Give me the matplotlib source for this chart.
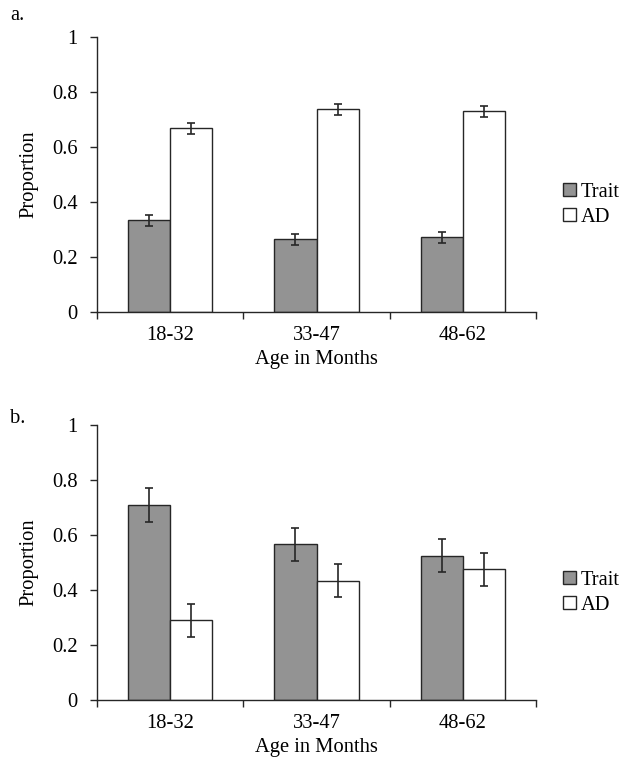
import numpy as np
import matplotlib
matplotlib.use('Agg')
import matplotlib.pyplot as plt
from matplotlib.patches import Patch

plt.rcParams['font.family'] = ['Liberation Serif', 'DejaVu Serif']
plt.rcParams['font.size'] = 14.8

ages = ['18-32', '33-47', '48-62']

# panel a
trait_a = [0.334, 0.264, 0.271]
trait_a_err = [0.020, 0.019, 0.020]
ad_a = [0.668, 0.737, 0.730]
ad_a_err = [0.019, 0.019, 0.020]

# panel b
trait_b = [0.709, 0.566, 0.525]
trait_b_err = [0.061, 0.060, 0.060]
ad_b = [0.291, 0.434, 0.476]
ad_b_err = [0.060, 0.060, 0.060]

gray = '#939393'
edge = '#262626'

fig = plt.figure(figsize=(6.23, 7.68), dpi=100)
ax_a = fig.add_axes([0.1557, 0.5938, 0.7047, 0.358])
ax_b = fig.add_axes([0.1557, 0.0885, 0.7047, 0.358])


def draw(ax, trait, trait_err, ad, ad_err):
    x = np.arange(len(ages))
    w = 0.288
    ax.bar(x - w / 2, trait, w, color=gray, edgecolor=edge, linewidth=1.0, zorder=2)
    ax.bar(x + w / 2, ad, w, color='white', edgecolor=edge, linewidth=1.0, zorder=2)
    ax.errorbar(x - w / 2, trait, yerr=trait_err, fmt='none', ecolor=edge,
                elinewidth=1.2, capsize=3, capthick=1.2, zorder=3)
    ax.errorbar(x + w / 2, ad, yerr=ad_err, fmt='none', ecolor=edge,
                elinewidth=1.2, capsize=3, capthick=1.2, zorder=3)

    ax.set_xlim(-0.5, len(ages) - 0.5)
    ax.set_ylim(0, 1)
    ax.set_yticks([0, 0.2, 0.4, 0.6, 0.8, 1])
    ax.set_yticklabels(['0', '0.2', '0.4', '0.6', '0.8', '1'])
    ax.set_xticks(np.arange(-0.5, len(ages)))
    ax.set_xticklabels([])
    ax.set_xticks(x, minor=True)
    ax.set_xticklabels(ages, minor=True)
    ax.tick_params(axis='x', which='major', direction='out', length=5, width=1, color=edge)
    ax.tick_params(axis='x', which='minor', length=0, pad=10)
    ax.tick_params(axis='y', direction='out', length=5, width=1, color=edge, pad=9)
    for s in ['top', 'right']:
        ax.spines[s].set_visible(False)
    for s in ['left', 'bottom']:
        ax.spines[s].set_color(edge)
        ax.spines[s].set_linewidth(1.0)
    ax.set_xlabel('Age in Months', labelpad=4)
    ax.set_ylabel('Proportion', labelpad=10)

    handles = [Patch(facecolor=gray, edgecolor=edge, linewidth=1.0),
               Patch(facecolor='white', edgecolor=edge, linewidth=1.0)]
    ax.legend(handles, ['Trait', 'AD'], loc='center left', bbox_to_anchor=(1.062, 0.39),
              frameon=False, borderpad=0, borderaxespad=0, handlelength=0.6,
              handleheight=0.6, handletextpad=0.25, labelspacing=0.3)


draw(ax_a, trait_a, trait_a_err, ad_a, ad_a_err)
draw(ax_b, trait_b, trait_b_err, ad_b, ad_b_err)

fig.text(0.016, 0.98, 'a.', ha='left', va='center')
fig.text(0.016, 0.455, 'b.', ha='left', va='center')

fig.savefig('out.png', dpi=100)
